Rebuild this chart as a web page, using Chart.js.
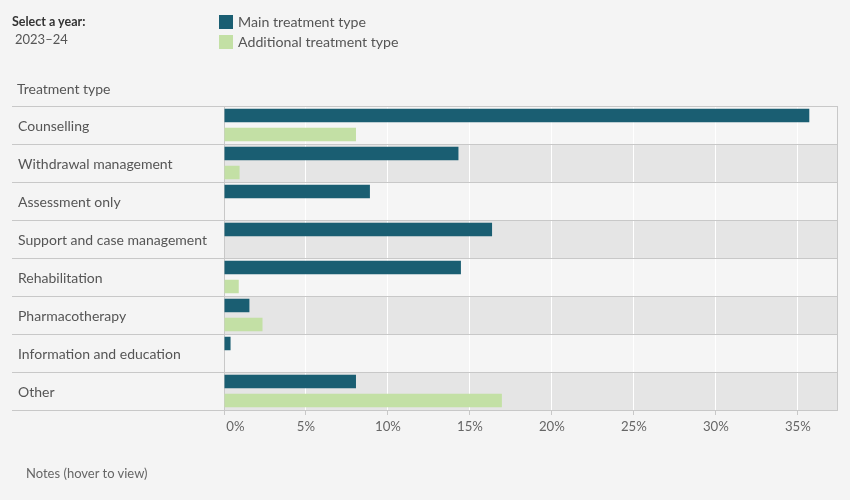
<!DOCTYPE html>
<html><head><meta charset="utf-8">
<script src="https://cdn.jsdelivr.net/npm/chart.js@4.4.1/dist/chart.umd.min.js"></script>
<style>
html,body{margin:0;padding:0;background:#f4f4f4;}
#wrap{position:relative;width:850px;height:500px;overflow:hidden;font-family:Lato,"Noto Sans",sans-serif;color:#555;}
canvas{position:absolute;left:0;top:0;}
.t{position:absolute;white-space:nowrap;}
.sw{position:absolute;width:14px;height:14px;}
</style></head>
<body>
<div id="wrap">
<canvas id="c" width="850" height="500"></canvas>
<div class="t" style="left:12px;top:14px;font-size:12.5px;font-weight:bold;color:#333;">Select a year:</div>
<div class="t" style="left:15px;top:31px;font-size:13px;color:#555;">2023–24</div>
<div class="sw" style="left:219px;top:15px;background:#1a5e72;"></div>
<div class="sw" style="left:219px;top:35px;background:#c3e0a5;"></div>
<div class="t" style="left:238px;top:13px;font-size:14.2px;color:#555;">Main treatment type</div>
<div class="t" style="left:238px;top:33px;font-size:14.2px;color:#555;">Additional treatment type</div>
<div class="t" style="left:17px;top:80px;font-size:14px;color:#555;">Treatment type</div>
<div class="t" style="left:26px;top:465px;font-size:13px;color:#666;">Notes (hover to view)</div>
</div>
<script>
const categories = ["Counselling","Withdrawal management","Assessment only","Support and case management","Rehabilitation","Pharmacotherapy","Information and education","Other"];
const mainTreatment = [35.7, 14.3, 8.9, 16.35, 14.45, 1.55, 0.4, 8.05];
const additionalTreatment = [8.05, 0.95, 0, 0, 0.9, 2.35, 0, 16.95];
const xTicks = [0,5,10,15,20,25,30,35];

const LINE = '#c8c8c8';
const bandPlugin = {
  id: 'bands',
  beforeDraw(chart) {
    const {ctx, chartArea: a, scales: {y}} = chart;
    const h = (y.getPixelForValue(1) - y.getPixelForValue(0));
    ctx.save();
    for (let i = 0; i < categories.length; i++) {
      const c = y.getPixelForValue(i);
      ctx.fillStyle = (i % 2 === 1) ? '#e5e5e5' : '#f5f5f5';
      ctx.fillRect(a.left, c - h/2, a.right - a.left, h);
    }
    ctx.restore();
  },
  beforeDatasetsDraw(chart) {
    const {ctx, chartArea: a, scales: {y}} = chart;
    const h = (y.getPixelForValue(1) - y.getPixelForValue(0));
    ctx.save();
    ctx.strokeStyle = LINE; ctx.lineWidth = 1;
    for (let i = 0; i <= categories.length; i++) {
      const yy = Math.round(y.getPixelForValue(i) - h/2) + 0.5;
      ctx.beginPath(); ctx.moveTo(12, yy); ctx.lineTo(a.right, yy); ctx.stroke();
    }
    const xr = Math.round(a.right) - 0.5;
    ctx.beginPath(); ctx.moveTo(xr, a.top); ctx.lineTo(xr, a.bottom); ctx.stroke();
    ctx.restore();
  }
};

new Chart(document.getElementById('c'), {
  type: 'bar',
  data: {
    labels: categories,
    datasets: [
      {label: 'Main treatment type', data: mainTreatment, backgroundColor: '#1a5e72', categoryPercentage: 1.0, barPercentage: 0.71},
      {label: 'Additional treatment type', data: additionalTreatment, backgroundColor: '#c3e0a5', categoryPercentage: 1.0, barPercentage: 0.71}
    ]
  },
  options: {
    indexAxis: 'y',
    responsive: false,
    animation: false,
    layout: {padding: {left: 18, right: 12, top: 106, bottom: 60}},
    plugins: {legend: {display: false}, tooltip: {enabled: false}},
    scales: {
      x: {
        min: 0, max: 37.45,
        afterFit(s) { s.height = 30; },
        afterBuildTicks(s) { s.ticks = xTicks.map(v => ({value: v})); },
        ticks: {stepSize: 5, includeBounds: false, padding: 4, color: '#666',
          font: {family: 'Lato, "Noto Sans", sans-serif', size: 13.2},
          callback: v => v === 0 ? '\u2007\u2007\u20070%' : v + '%'},
        grid: {color: '#ffffff', lineWidth: 1, tickLength: 5, tickColor: LINE, drawTicks: true},
        border: {display: false}
      },
      y: {
        afterFit(s) { s.width = 206; },
        ticks: {crossAlign: 'far', color: '#555', padding: 0, labelOffset: 1.5,
          font: {family: 'Lato, "Noto Sans", sans-serif', size: 14}},
        grid: {display: false},
        border: {display: true, color: LINE, width: 1}
      }
    }
  },
  plugins: [bandPlugin]
});
</script>
</body></html>
